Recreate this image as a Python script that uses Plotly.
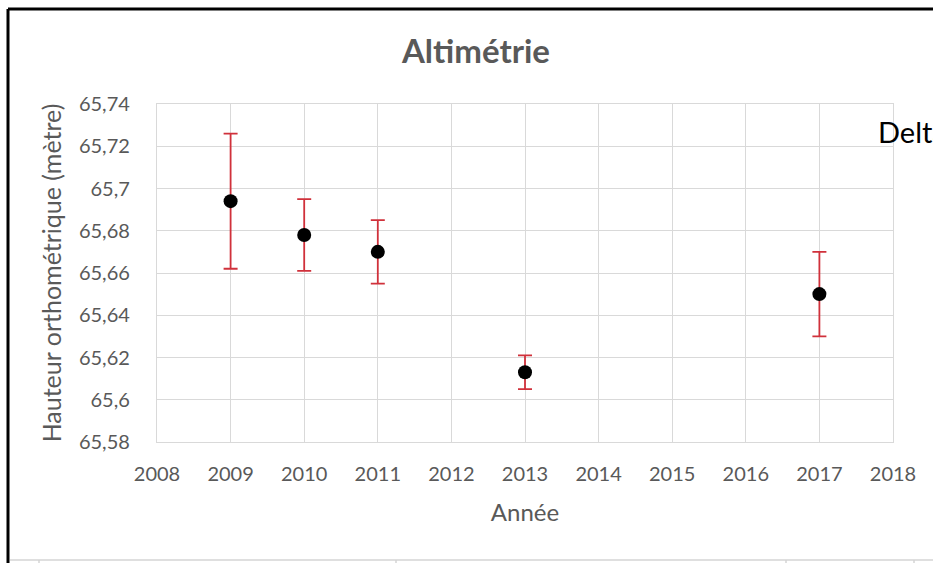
import plotly.graph_objects as go

# Survey results: orthometric height per year with its uncertainty
annees = [2009, 2010, 2011, 2013, 2017]
hauteurs = [65.694, 65.678, 65.670, 65.613, 65.650]
incertitudes = [0.032, 0.017, 0.015, 0.008, 0.020]

y_ticks = [65.58, 65.60, 65.62, 65.64, 65.66, 65.68, 65.70, 65.72, 65.74]
y_tick_labels = ["65,58", "65,6", "65,62", "65,64", "65,66", "65,68", "65,7", "65,72", "65,74"]
x_ticks = list(range(2008, 2019))

W, H = 933, 563
ML, MR, MT, MB = 157, 40, 104, 121
PW, PH = W - ML - MR, H - MT - MB


def px_x(p):
    return (p - ML) / PW


def px_y(p):
    return (H - MB - p) / PH


FONT = "Lato, 'Open Sans', sans-serif"
GREY_TXT = "#595959"
GRID = "#d9d9d9"

fig = go.Figure()
fig.add_trace(go.Scatter(
    x=annees,
    y=hauteurs,
    mode="markers",
    marker=dict(color="black", size=14, symbol="circle"),
    error_y=dict(type="data", array=incertitudes, symmetric=True,
                 color="#d0313b", thickness=1.8, width=7),
    showlegend=False,
    hoverinfo="x+y",
))

fig.update_layout(
    width=W, height=H,
    margin=dict(l=ML, r=MR, t=MT, b=MB),
    paper_bgcolor="white",
    plot_bgcolor="white",
    font=dict(family=FONT, color=GREY_TXT, size=20),
    title=dict(text="<b>Altimétrie</b>", x=476 / W, xref="container", xanchor="center",
               y=1 - 51 / H, yref="container", yanchor="middle",
               font=dict(family=FONT, size=33, color=GREY_TXT)),
    xaxis=dict(
        range=[2008, 2018], tickvals=x_ticks, ticktext=[str(v) for v in x_ticks],
        showgrid=True, gridcolor=GRID, gridwidth=1.3,
        showline=True, mirror=True, linecolor=GRID, linewidth=1.3,
        zeroline=False, ticks="", ticklabelstandoff=14,
        tickfont=dict(size=20, color=GREY_TXT),
        title=dict(text="Année", standoff=20, font=dict(size=24, color=GREY_TXT)),
    ),
    yaxis=dict(
        range=[65.58, 65.74], tickvals=y_ticks, ticktext=y_tick_labels,
        showgrid=True, gridcolor=GRID, gridwidth=1.3,
        showline=True, mirror=True, linecolor=GRID, linewidth=1.3,
        zeroline=False, ticks="", ticklabelstandoff=22,
        tickfont=dict(size=20, color=GREY_TXT),
        title=dict(text="Hauteur orthométrique (mètre)", standoff=10,
                   font=dict(size=25, color=GREY_TXT)),
    ),
)

# Sheet frame around the chart object
fig.add_shape(type="line", xref="paper", yref="paper",
              x0=px_x(8), x1=px_x(8), y0=px_y(9), y1=px_y(H + 5),
              line=dict(color="black", width=3))
fig.add_shape(type="line", xref="paper", yref="paper",
              x0=px_x(8), x1=px_x(W + 5), y0=px_y(9), y1=px_y(9),
              line=dict(color="black", width=3))
# Spreadsheet cell border along the bottom
fig.add_shape(type="line", xref="paper", yref="paper",
              x0=px_x(10), x1=px_x(W + 5), y0=px_y(560), y1=px_y(560),
              line=dict(color="#d4d4d4", width=1.5))
for cx in [39, 396, 786, 914]:
    fig.add_shape(type="line", xref="paper", yref="paper",
                  x0=px_x(cx), x1=px_x(cx), y0=px_y(560), y1=px_y(H + 5),
                  line=dict(color="#d4d4d4", width=1.5))

# Neighbouring cell text
fig.add_annotation(text="Delta", xref="paper", yref="paper",
                   x=px_x(876), y=px_y(131), xanchor="left", yanchor="middle",
                   showarrow=False, font=dict(family=FONT, size=29, color="black"))

fig.write_html("out.html")
